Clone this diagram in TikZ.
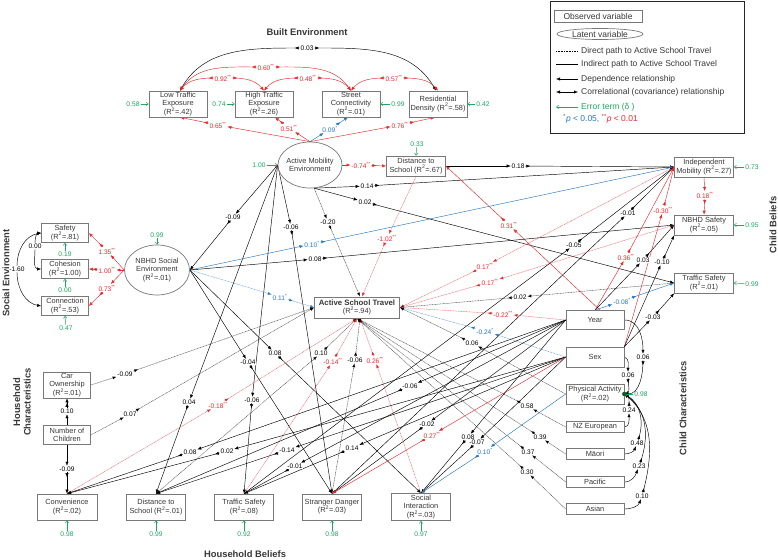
\documentclass[tikz,border=0pt]{standalone}
\usepackage{fontspec}
\setmainfont{Liberation Sans}
\usetikzlibrary{shapes.geometric,arrows.meta,decorations.markings}
\definecolor{cRed}{RGB}{232,40,44}
\definecolor{cBlue}{RGB}{40,120,190}
\definecolor{cGreen}{RGB}{30,165,95}
\definecolor{cDkGreen}{RGB}{20,90,40}
\definecolor{boxc}{RGB}{120,120,120}
\definecolor{txtc}{RGB}{55,55,55}
\pgfdeclarelayer{bg}
\pgfsetlayers{bg,main}
\newcommand\Rsq{R\textsuperscript{2}}
\newcommand\stA{\textsuperscript{*}}
\newcommand\stB{\textsuperscript{**}}
\tikzset{
 ln/.style={line width=0.45pt},
 dir/.style={dash pattern=on 1pt off 0.6pt, line width=0.45pt, draw opacity=0.7},
 midtip/.style={postaction={decorate,decoration={markings,mark=at position 5pt with {\arrow{>}}}}},
 midtipr/.style={postaction={decorate,decoration={markings,mark=at position -5pt with {\arrowreversed{>}}}}},
 lab/.style={fill=white, inner sep=0.7pt, font=\fontsize{6.6}{7}\selectfont},
 box/.style={draw=boxc, line width=0.7pt, fill=white, align=center, inner sep=0pt, font=\fontsize{7.4}{8.2}\selectfont, text=txtc, minimum width=58, minimum height=20},
 ell/.style={ellipse, draw=boxc, line width=0.7pt, fill=white, align=center, inner sep=-5pt, font=\fontsize{7.4}{8.4}\selectfont, text=txtc},
 err/.style={text=cGreen, font=\fontsize{6.7}{7}\selectfont, inner sep=0.8pt},
 errarr/.style={draw=cGreen, line width=0.5pt, -{Straight Barb[length=2.2pt,width=3.5pt]}},
 ttl/.style={font=\bfseries\fontsize{9.4}{10.5}\selectfont, text=txtc},
 lgd/.style={font=\fontsize{8.5}{9}\selectfont, text=txtc, anchor=west, inner sep=0pt},
}
\newcommand\pth[5][]{%
  \node[#1,lab] (L) at (#4) {#5};
  \begin{pgfonlayer}{bg}
    \draw[ln,#1,->] (#2) -- (L);
    \draw[ln,#1,->,midtip] (L) -- (#3);
  \end{pgfonlayer}}
\newcommand\pthc[7][]{%
  \node[#1,lab] (L) at (#4) {#5};
  \begin{pgfonlayer}{bg}
    \draw[ln,#1,->] (#2) to[#6] (L);
    \draw[ln,#1,->,midtip] (L) to[#7] (#3);
  \end{pgfonlayer}}
\newcommand\cvr[7][]{%
  \node[#1,lab] (L) at (#4) {#5};
  \begin{pgfonlayer}{bg}
    \draw[ln,#1,<-,midtipr] (#2) to[#6] (L);
    \draw[ln,#1,->,midtip] (L) to[#7] (#3);
  \end{pgfonlayer}}
\newcommand\cvs[6]{%
  \node[lab] (L) at (#3) {#4};
  \begin{pgfonlayer}{bg}
    \draw[ln,<-] (#1) to[#5] (L);
    \draw[ln,->] (L) to[#6] (#2);
  \end{pgfonlayer}}
\newcommand\er[3]{\node[err] (E) at (#1) {#2}; \draw[errarr] (E) -- (#3);}
\begin{document}
\begin{tikzpicture}[x=1pt,y=-1pt,>={Latex[length=4pt,width=3.2pt]}]
\useasboundingbox (0,0) rectangle (778,559);
% titles
\node[ttl] (tBE) at (307,32) {Built Environment};
\node[ttl,rotate=90] (tSE) at (6,273) {Social Environment};
\node[ttl,rotate=90,align=center] (tHC) at (22,402) {Household\\Characteristics};
\node[ttl] (tHB) at (245,554) {Household Beliefs};
\node[ttl,rotate=90] (tCC) at (683,408) {Child Characteristics};
\node[ttl,rotate=90] (tCB) at (773,225) {Child Beliefs};
% legend
\node[draw=black!85,line width=1pt,minimum width=194,minimum height=131,inner sep=0] (lgbox) at (647,67.5) {};
\node[box,font=\fontsize{8.5}{9}\selectfont,minimum width=88,minimum height=12] (lgobs) at (598,16) {Observed variable};
\node[ellipse,draw=boxc,line width=0.7pt,inner sep=-1.5pt,minimum width=86,minimum height=11,font=\fontsize{8.5}{9}\selectfont,text=txtc] (lglat) at (600,34) {Latent variable};
\coordinate (lga1) at (556,51); \coordinate (lgb1) at (578,51);
\coordinate (lga2) at (556,64); \coordinate (lgb2) at (578,64);
\coordinate (lga3) at (556,79); \coordinate (lgb3) at (578,79);
\coordinate (lga4) at (556,92); \coordinate (lgb4) at (578,92);
\coordinate (lga5) at (556,107); \coordinate (lgb5) at (578,107);
\draw[densely dotted,line width=0.6pt] (lga1) -- (lgb1);
\draw[ln] (lga2) -- (lgb2);
\draw[ln,<-] (lga3) -- (lgb3);
\draw[ln,<->] (lga4) -- (lgb4);
\draw[errarr] (lgb5) -- (lga5);
\node[lgd] (lgt1) at (581,51) {Direct path to Active School Travel};
\node[lgd] (lgt2) at (581,64) {Indirect path to Active School Travel};
\node[lgd] (lgt3) at (581,79) {Dependence relationship};
\node[lgd] (lgt4) at (581,92) {Correlational (covariance) relationship};
\node[lgd,text=cGreen] (lgt5) at (581,107) {Error term (δ )};
\node[lgd] (lgt6) at (563,119) {\textcolor{cBlue}{\stA\textit{p} < 0.05,} \textcolor{cRed}{\stB\textit{p} < 0.01}};
% boxes
\node[box,minimum height=26] (lte) at (178,104) {Low Traffic\\Exposure\\(\Rsq=.42)};
\node[box,minimum height=26] (hte) at (264,104) {High Traffic\\Exposure\\(\Rsq=.26)};
\node[box,minimum height=26] (sc) at (351,104) {Street\\Connectivity\\(\Rsq=.01)};
\node[box,minimum height=26] (rd) at (438,104) {Residential\\Density (\Rsq=.58)};
\node[ell,minimum width=64,minimum height=46] (ame) at (310,165) {Active Mobility\\Environment};
\node[box,minimum width=59] (dts) at (416,166) {Distance to\\School (\Rsq=.67)};
\node[box,minimum width=59] (im) at (704,167) {Independent\\Mobility (\Rsq=.27)};
\node[box,minimum width=59] (nbs) at (704,225) {NBHD Safety\\(\Rsq=.05)};
\node[box,minimum width=59] (tsc) at (704,283) {Traffic Safety\\(\Rsq=.01)};
\node[ell,minimum width=65,minimum height=50] (nse) at (157,270) {NBHD Social\\Environment\\(\Rsq=.01)};
\node[box,minimum width=47,minimum height=19] (saf) at (65,233) {Safety\\(\Rsq=.81)};
\node[box,minimum width=47,minimum height=19] (coh) at (65,269) {Cohesion\\(\Rsq=1.00)};
\node[box,minimum width=47,minimum height=19] (con) at (65,306) {Connection\\(\Rsq=.53)};
\node[box,minimum width=85,minimum height=21] (ast) at (357,307.5) {{\bfseries\fontsize{7.8}{8.6}\selectfont Active School Travel}\\(\Rsq=.94)};
\node[box,minimum width=47,minimum height=26] (car) at (67,385) {Car\\Ownership\\(\Rsq=.01)};
\node[box,minimum width=47,minimum height=19] (noc) at (67,435) {Number of\\Children};
\node[box,minimum width=60,minimum height=26] (cnv) at (67,507) {Convenience\\(\Rsq=.02)};
\node[box,minimum width=59,minimum height=26] (dhb) at (156,507) {Distance to\\School (\Rsq=.01)};
\node[box,minimum width=59,minimum height=26] (thb) at (244,507) {Traffic Safety\\(\Rsq=.08)};
\node[box,minimum width=59,minimum height=26] (sd) at (332,507) {Stranger Danger\\(\Rsq=.03)};
\node[box,minimum width=59,minimum height=27] (si) at (421,507) {Social\\Interaction\\(\Rsq=.03)};
\node[box,minimum height=19] (yr) at (595,320) {Year};
\node[box] (sx) at (595,357) {Sex};
\node[box] (pa) at (595,394) {Physical Activity\\(\Rsq=.02)};
\node[box,minimum height=10.5] (nze) at (595,427) {NZ European};
\node[box,minimum height=10.5] (mao) at (595,454) {Māori};
\node[box,minimum height=10.5] (pac) at (595,482) {Pacific};
\node[box,minimum height=10.5] (asi) at (595,509) {Asian};
% built environment measurement
\pth[cRed]{ame.north}{[xshift=2]lte.south}{218,125}{0.65\stB}
\pth[cRed]{ame.north}{[xshift=11]hte.south}{289,128}{0.51\stB}
\pth[cBlue]{ame.north}{[xshift=-3]sc.south}{330,129}{0.09\stA}
\pth[cRed]{ame.north}{[xshift=-3]rd.south}{400,125}{0.76\stB}
\cvr{[xshift=2]lte.north}{[xshift=-2]rd.north}{307,48}{0.03}{out=60,in=180}{out=0,in=120}
\cvr[cRed]{[xshift=2]lte.north}{sc.north}{266,67}{0.60\stB}{out=55,in=180}{out=0,in=125}
\cvr[cRed]{[xshift=2]lte.north}{hte.north}{223,78}{0.92\stB}{out=50,in=180}{out=0,in=130}
\cvr[cRed]{hte.north}{sc.north}{308,78}{0.48\stB}{out=50,in=180}{out=0,in=130}
\cvr[cRed]{sc.north}{rd.north}{394,78}{0.57\stB}{out=50,in=180}{out=0,in=130}
% active mobility environment
\pth[cRed]{ame.east}{dts.west}{361,165}{-0.74\stB}
\pth{dts.east}{im.west}{518,166}{0.18}
\pth{ame.-80}{im.west}{367,186}{0.14}
\pth{ame.-80}{tsc.west}{365,202}{0.02}
\pth[dir]{ame.-80}{[xshift=3]ast.north}{328,222}{-0.20}
\pth{ame.west}{nse.east}{233,217}{-0.09}
\pth{ame.west}{sd.north}{291,227}{-0.06}
\pth{ame.west}{thb.north}{252,400}{-0.06}
\pth{ame.west}{dhb.north}{189,402}{0.04}
\pth[cRed,dir]{dts.south}{[xshift=5]ast.north}{387,238}{-1.02\stB}
\pth[cRed]{[xshift=5]yr.north}{dts.east}{509,225}{0.31\stB}
% social environment
\pth[cRed]{nse.west}{saf.east}{107,251}{1.35\stB}
\pth[cRed]{nse.west}{coh.east}{107,270}{1.00\stB}
\pth[cRed]{nse.west}{con.east}{107,288}{0.73\stB}
\cvs{saf.west}{coh.west}{35,246}{0.00}{out=180,in=90}{out=-90,in=180}
\cvs{saf.west}{con.west}{17,269}{-1.60}{out=190,in=90}{out=-90,in=170}
\pth[cBlue]{nse.east}{im.west}{312,244}{0.10\stA}
\pth{nse.east}{nbs.west}{315,259}{0.08}
\pth[cBlue,dir]{nse.east}{ast.west}{280,297}{0.11\stA}
\pth{nse.east}{sd.north}{248,362}{-0.04}
\pth{nse.east}{si.north}{275,353}{0.08}
% household characteristics
\pth{noc.north}{car.south}{67,411}{0.10}
\pth{noc.south}{cnv.north}{67,469}{-0.09}
\pth[dir]{car.east}{ast.west}{125,374}{-0.09}
\pth[dir]{noc.east}{ast.west}{130,414}{0.07}
% household beliefs
\pth[cRed,dir]{cnv.north}{ast.south}{218,405}{-0.18\stB}
\pth[dir]{dhb.north}{ast.south}{321,353}{0.10}
\pth[cRed,dir]{thb.north}{ast.south}{333,361}{-0.14\stB}
\pth[dir]{sd.north}{[xshift=3]ast.south}{355,360}{-0.06}
\pth[cRed,dir]{si.north}{[xshift=3]ast.south}{375,360}{0.26\stB}
\pth{thb.north}{im.west}{574,245}{-0.05}
\pth{sd.north}{im.west}{628,213}{-0.01}
% child beliefs
\pth[cRed]{im.south}{nbs.north}{705,195}{0.18\stB}
\pth[cRed,dir]{im.west}{ast.east}{485,266}{0.17\stB}
\pth[cRed,dir]{nbs.west}{ast.east}{490,282}{0.17\stB}
\pth[dir]{tsc.west}{ast.east}{520,297}{0.02}
% child characteristics -> child beliefs
\pth[cRed]{yr.north}{im.west}{626,257}{0.36\stB}
\pth{yr.north}{nbs.west}{643,260}{0.03}
\pth[cBlue]{yr.north}{tsc.west}{622,301}{-0.08\stA}
\pth[cRed]{sx.north east}{im.west}{663,210}{-0.30\stB}
\pth{sx.north east}{nbs.south west}{662,262}{-0.10}
\pth{sx.north east}{tsc.south west}{653,317}{-0.03}
% child characteristics -> AST
\pth[cRed,dir]{yr.west}{ast.east}{503,314}{-0.22\stB}
\pth[cBlue,dir]{sx.west}{ast.east}{485,331}{-0.24\stA}
\pth[dir]{pa.west}{ast.east}{472,343}{0.06}
\pth[dir]{nze.west}{ast.south}{527,406}{0.58}
\pth[dir]{mao.west}{ast.south}{540,437}{0.39}
\pth[dir]{pac.west}{ast.south}{528,452}{0.37}
\pth[dir]{asi.west}{ast.south}{527,472}{0.30}
% child characteristics -> household beliefs
\pth{yr.west}{cnv.north}{190,452}{0.08}
\pth{sx.west}{cnv.north}{227,451}{0.02}
\pth{yr.west}{dhb.north}{410,386}{-0.06}
\pth{sx.west}{dhb.north}{287,450}{-0.14}
\pth{yr.west}{thb.north}{295,466}{-0.01}
\pth{sx.west}{thb.north}{352,448}{0.14}
\pth{yr.west}{sd.north}{427,424}{-0.02}
\pth[cRed]{sx.west}{sd.north}{432,435}{0.27\stB}
\pth{yr.west}{si.north}{468,437}{0.08}
\pth{sx.west}{si.north}{477,442}{-0.07}
\pth[cBlue]{pa.west}{si.north}{485,451}{0.10\stA}
% physical activity predictors
\pthc{yr.east}{pa.east}{643,357}{0.06}{out=0,in=90}{out=-90,in=0}
\pthc{sx.east}{pa.east}{628,375}{0.06}{out=-20,in=90}{out=-90,in=20}
\pthc{nze.east}{pa.east}{629,410}{0.24}{out=0,in=-90}{out=90,in=-20}
\pthc{mao.east}{pa.east}{637,443}{0.48}{out=0,in=-110}{out=70,in=-30}
\pthc{pac.east}{pa.east}{639,466}{0.23}{out=0,in=-110}{out=70,in=-35}
\pthc{asi.east}{pa.east}{642,496}{0.10}{out=0,in=-110}{out=75,in=-40}
% error terms
\er{133,104}{0.58}{lte.west}
\er{219,104}{0.74}{hte.west}
\er{398,104}{0.99}{sc.east}
\er{483,104}{0.42}{rd.east}
\er{259,165}{1.00}{ame.west}
\er{417,144}{0.33}{dts.north}
\er{752,167}{0.73}{im.east}
\er{752,225}{0.95}{nbs.east}
\er{752,284}{0.99}{tsc.east}
\er{157,235}{0.99}{nse.north}
\er{65,254}{0.19}{saf.south}
\er{65,290}{0.00}{coh.south}
\er{66,328}{0.47}{con.south}
\er{67,534}{0.98}{cnv.south}
\er{156,534}{0.99}{dhb.south}
\er{244,534}{0.92}{thb.south}
\er{332,534}{0.98}{sd.south}
\er{421,534}{0.97}{si.south}
\er{641,394}{0.98}{pa.east}
\fill[cDkGreen] (pa.east) circle (2.3);
\end{tikzpicture}
\end{document}
